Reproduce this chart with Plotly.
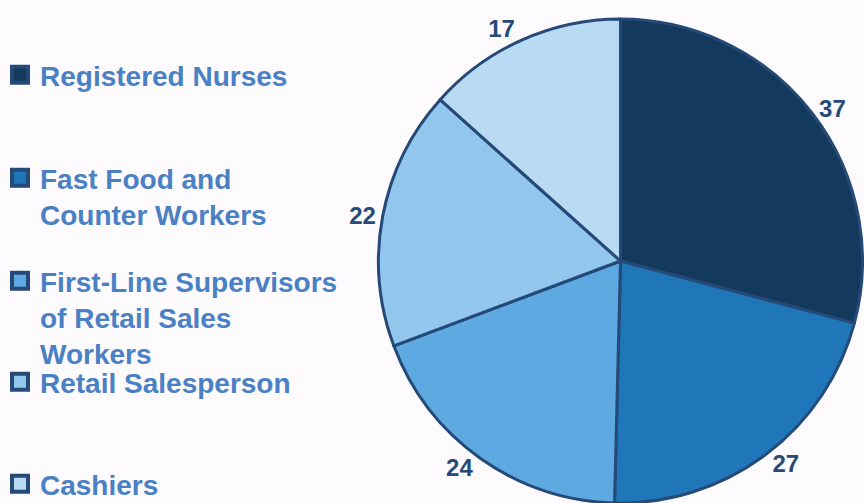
import plotly.graph_objects as go

categories = ["Registered Nurses", "Fast Food and Counter Workers",
              "First-Line Supervisors of Retail Sales Workers",
              "Retail Salesperson", "Cashiers"]
legend_labels = ["Registered Nurses", "Fast Food and<br>Counter Workers",
                 "First-Line Supervisors<br>of Retail Sales<br>Workers",
                 "Retail Salesperson", "Cashiers"]
values = [37, 27, 24, 22, 17]
colors = ["#13395c", "#1f76b8", "#5ea9e1", "#93c6ec", "#b8daf3"]
border = "#254a78"
legend_y = [0.9006, 0.6958, 0.4911, 0.2903, 0.0875]

fig = go.Figure()
fig.add_trace(go.Pie(
    labels=categories, values=values, sort=False, direction="clockwise",
    rotation=0, marker=dict(colors=colors, line=dict(color=border, width=3)),
    textinfo="value", textposition="outside",
    textfont=dict(family="Liberation Sans", size=24, color=border, weight="bold"),
    showlegend=False, hoverinfo="label+value",
    domain=dict(x=[378/864, 863/864], y=[0, 1-19/503]),
))

legend_layout = {}
for i, (lab, col) in enumerate(zip(legend_labels, colors)):
    name = "legend" if i == 0 else f"legend{i+1}"
    fig.add_trace(go.Scatter(
        x=[None], y=[None], mode="markers", name=lab,
        marker=dict(symbol="square", size=16, color=col, line=dict(color=border, width=4)),
        legend=name, showlegend=True,
    ))
    legend_layout[name] = dict(
        x=0.0, y=legend_y[i], xanchor="left", yanchor="top", valign="top",
        bgcolor="rgba(0,0,0,0)",
        font=dict(family="Liberation Sans", size=28, color="#4a80c4", weight="bold"),
    )

fig.update_layout(
    width=864, height=503,
    margin=dict(l=0, r=0, t=0, b=0, autoexpand=False),
    paper_bgcolor="#fdfbfd", plot_bgcolor="#fdfbfd",
    xaxis=dict(visible=False), yaxis=dict(visible=False),
    **legend_layout,
)
fig.write_html("out.html", config={"displayModeBar": False},
               post_script="document.body.style.margin='0';document.body.style.background='#fdfbfd';")
